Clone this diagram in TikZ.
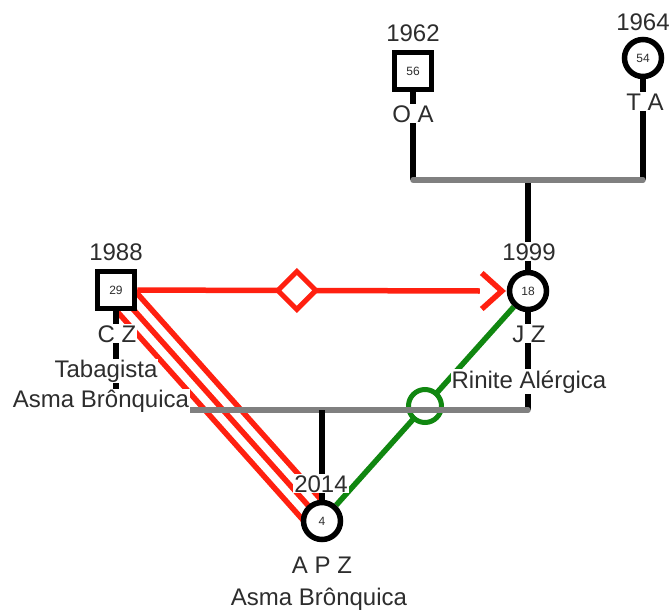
\documentclass[tikz,border=0pt]{standalone}
\usepackage{fontspec}
\setmainfont{Liberation Sans}
\usetikzlibrary{calc,shapes.geometric}
\definecolor{linkred}{RGB}{255,32,16}
\definecolor{linkgreen}{RGB}{16,135,16}
\definecolor{bargrey}{RGB}{128,128,128}
\definecolor{inkgrey}{RGB}{45,45,45}
\pgfdeclarelayer{links}
\pgfsetlayers{links,main}
\begin{document}
\begin{tikzpicture}[x=1pt,y=-1pt,
  person/.style={draw=black,line width=5.5pt,fill=white,inner sep=0pt,
    minimum size=37pt,font=\fontsize{12}{12}\selectfont,text=inkgrey},
  male/.style={person,rectangle},
  female/.style={person,circle},
  lbl/.style={fill=white,inner sep=1pt,anchor=base,
    font=\fontsize{24}{24}\selectfont,text=inkgrey},
  kin/.style={draw=black,line width=5.5pt},
  bar/.style={draw=bargrey,line width=5.5pt,line cap=round},
  conflict/.style={draw=linkred,line width=5.5pt},
  bond/.style={draw=linkgreen,line width=5.5pt},
  ring/.style={circle,draw=linkgreen,line width=5pt,fill=white,
    inner sep=0pt,minimum size=33pt},
  marker/.style={diamond,draw=linkred,line width=5pt,fill=white,
    inner sep=0pt,minimum size=40pt},
]
\useasboundingbox (0,0) rectangle (672,613);

% people
\node[male]   (oa)  at (413,71)  {56};
\node[female] (ta)  at (643,58)  {54};
\node[male]   (cz)  at (116,290) {29};
\node[female] (jz)  at (528,291) {18};
\node[female] (apz) at (322,521) {4};

% junction points of the family bars
\coordinate (ub) at (528,180);
\coordinate (cb) at (322,410);

\begin{pgfonlayer}{links}
  % hostile relation C Z -- A P Z
  \foreach \s in {-13.5pt,0pt,13.5pt}
    \draw[conflict] ($(cz)!\s!90:(apz)$) -- ($(apz)!\s!-90:(cz)$);
  % close relation J Z -- A P Z
  \draw[bond] (jz) -- (apz);
  \node[ring] (gr) at ($(jz)!0.5!(apz)$) {};
  % family lines
  \draw[kin] (oa) -- (oa |- ub);
  \draw[kin] (ta) -- (ta |- ub);
  \draw[kin] (ub) -- (jz);
  \draw[bar] (oa |- ub) -- (ta |- ub);
  \draw[kin] (cz) -- (cz |- cb);
  \draw[kin] (jz) -- (jz |- cb);
  \draw[bar] (cz |- cb) -- (jz |- cb);
  \draw[kin] (cb) -- (apz);
  % directed relation C Z -> J Z
  \draw[conflict] (cz) -- ($(jz.west)+(-27,0)$);
  \draw[conflict,line join=miter] ($(jz.west)+(-25,-18)$) -- ($(jz.west)+(-5,0)$)
    -- ($(jz.west)+(-25,18)$);
\end{pgfonlayer}
\node[marker] (dm) at ($(cz)!0.439!(jz)$) {};

% labels
\node[lbl] (yOA)  at (413,41)  {1962};
\node[lbl] (nOA)  at (413,122) {O A};
\node[lbl] (yTA)  at (643,30)  {1964};
\node[lbl] (nTA)  at (645,110) {T A};
\node[lbl] (yCZ)  at (116,260) {1988};
\node[lbl] (nCZ)  at (117,342) {C Z};
\node[lbl] (tCZa) at (106,377) {Tabagista};
\node[lbl,text depth=5pt] (tCZb) at (101,407) {Asma Brônquica};
\node[lbl] (yJZ)  at (529,260) {1999};
\node[lbl] (nJZ)  at (529,342) {J Z};
\node[lbl] (tJZ)  at (529,388) {Rinite Alérgica};
\node[lbl] (yAPZ) at (321,492) {2014};
\node[lbl] (nAPZ) at (322,573) {A P Z};
\node[lbl] (tAPZ) at (319,605) {Asma Brônquica};
\end{tikzpicture}
\end{document}
